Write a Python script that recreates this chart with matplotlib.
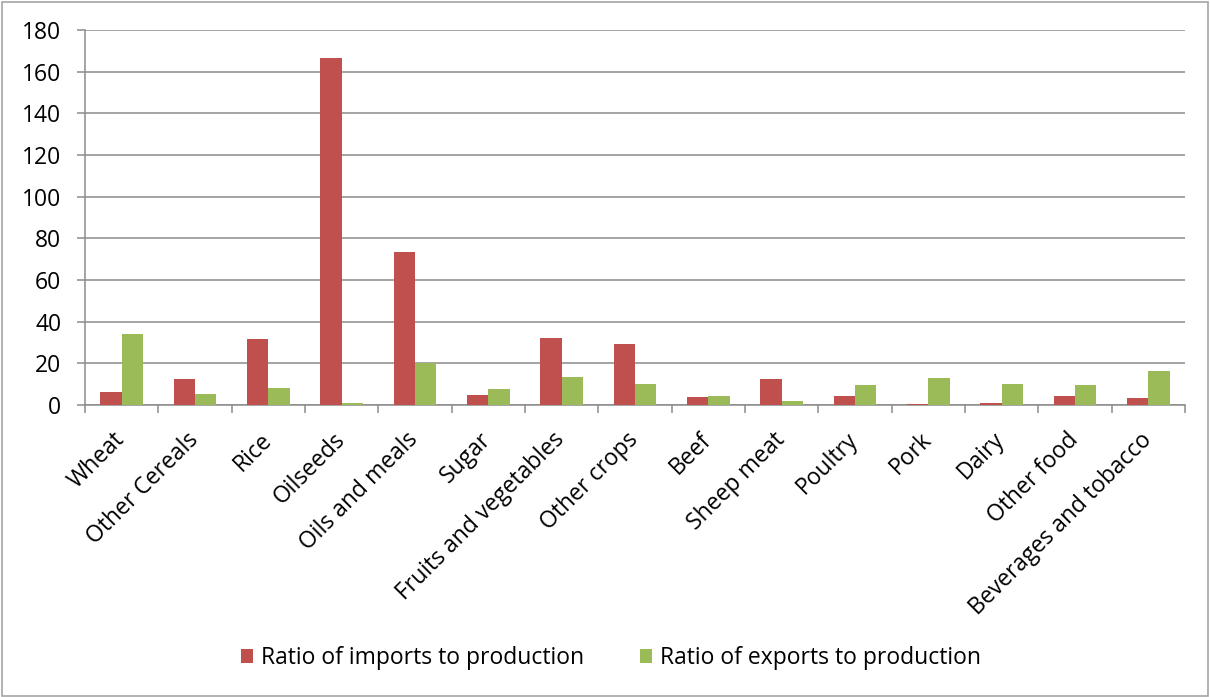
import numpy as np
import matplotlib.pyplot as plt
from matplotlib.patches import Rectangle

categories = ["Wheat", "Other Cereals", "Rice", "Oilseeds", "Oils and meals", "Sugar",
              "Fruits and vegetables", "Other crops", "Beef", "Sheep meat", "Poultry",
              "Pork", "Dairy", "Other food", "Beverages and tobacco"]
imports = [6.2, 12.3, 31.7, 166.5, 73.5, 4.7, 32.2, 29.1, 3.8, 12.5, 4.2, 0.3, 0.9, 4.3, 3.5]
exports = [34.1, 5.1, 8.3, 0.8, 20.0, 7.7, 13.4, 10.2, 4.5, 2.1, 9.8, 12.8, 10.2, 9.4, 16.5]
y_ticks = [0, 20, 40, 60, 80, 100, 120, 140, 160, 180]

plt.rcParams['font.family'] = ['Open Sans', 'DejaVu Sans']
fs = 16.5

fig = plt.figure(figsize=(12.1, 6.97), dpi=100)
ax = fig.add_axes([85 / 1210, 1 - 405 / 697, 1100 / 1210, 375 / 697])

# outer border of the chart
fig.patches.append(Rectangle((0.002, 0.002), 0.996, 0.995, transform=fig.transFigure,
                             fill=False, edgecolor='#a6a6a6', linewidth=1.2))

x = np.arange(len(categories))
w = 0.29
ax.bar(x - w / 2, imports, w, color='#C0504D', label='Ratio of imports to production', zorder=3)
ax.bar(x + w / 2, exports, w, color='#9BBB59', label='Ratio of exports to production', zorder=3)

ax.set_xlim(-0.5, len(categories) - 0.5)
ax.set_ylim(0, 180)
ax.set_yticks(y_ticks)
ax.yaxis.grid(True, color='#8c8c8c', linewidth=1.1, zorder=0)
ax.tick_params(axis='y', length=6, width=1.1, color='#8c8c8c', labelsize=fs, pad=11)

ax.set_xticks(np.arange(len(categories) + 1) - 0.5)
ax.set_xticklabels([])
ax.tick_params(axis='x', length=6, width=1.1, color='#8c8c8c')
for i, c in enumerate(categories):
    ax.text(i - 0.12, -11, c, rotation=45, ha='right', va='top', fontsize=fs,
            rotation_mode='anchor', transform=ax.transData)

for s in ['top', 'right']:
    ax.spines[s].set_visible(False)
for s in ['left', 'bottom']:
    ax.spines[s].set_color('#8c8c8c')
    ax.spines[s].set_linewidth(1.1)

fig.legend(loc='center', bbox_to_anchor=(611 / 1210, 1 - 658 / 697), ncol=2,
           frameon=False, fontsize=fs, handlelength=0.55, handleheight=0.55,
           columnspacing=2.4, handletextpad=0.35)

fig.savefig('out.png', dpi=100)
